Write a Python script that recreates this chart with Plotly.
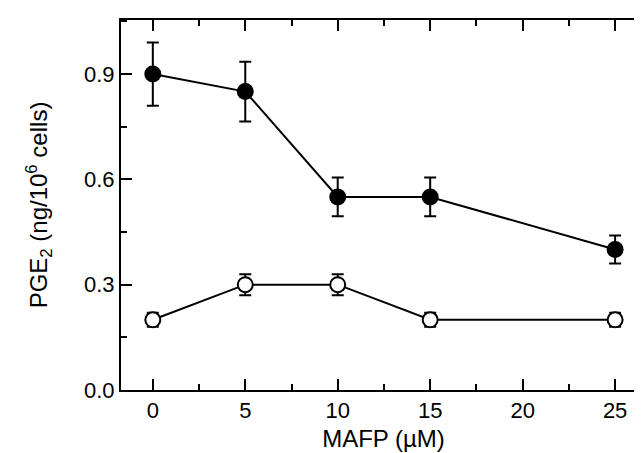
import plotly.graph_objects as go

mafp = [0, 5, 10, 15, 25]
pge2_filled = [0.90, 0.85, 0.55, 0.55, 0.40]
err_filled = [0.09, 0.085, 0.055, 0.055, 0.04]
pge2_open = [0.20, 0.30, 0.30, 0.20, 0.20]
err_open = [0.02, 0.03, 0.03, 0.02, 0.02]

x_ticks = [0, 5, 10, 15, 20, 25]
y_ticks = [0.0, 0.3, 0.6, 0.9]
y_tick_text = ["0.0", "0.3", "0.6", "0.9"]

fig = go.Figure()
fig.add_trace(go.Scatter(
    x=mafp, y=pge2_open, mode="lines+markers",
    line=dict(color="black", width=2),
    marker=dict(symbol="circle", size=15, color="white",
                line=dict(color="black", width=2)),
    error_y=dict(type="data", array=err_open, visible=True,
                 color="black", thickness=2, width=6),
    showlegend=False,
))
fig.add_trace(go.Scatter(
    x=mafp, y=pge2_filled, mode="lines+markers",
    line=dict(color="black", width=2),
    marker=dict(symbol="circle", size=17, color="black"),
    error_y=dict(type="data", array=err_filled, visible=True,
                 color="black", thickness=2, width=6),
    showlegend=False,
))

font_family = "Liberation Sans, Arial, sans-serif"
fig.update_layout(
    width=642, height=453,
    margin=dict(l=113, r=2, t=12, b=71),
    paper_bgcolor="white", plot_bgcolor="white",
    font=dict(family=font_family, size=22, color="black"),
    xaxis=dict(
        range=[-1.72, 26.67], tickvals=x_ticks,
        ticks="inside", ticklen=11, tickwidth=2, tickcolor="black",
        showline=True, linecolor="black", linewidth=2, mirror="ticks",
        showgrid=False, zeroline=False,
        minor=dict(dtick=2.5, tick0=0, ticks="inside", ticklen=6,
                   tickwidth=2, tickcolor="black", showgrid=False),
        title=dict(text="MAFP (µM)", font=dict(size=24), standoff=8),
        tickfont=dict(size=22),
    ),
    yaxis=dict(
        range=[0, 1.054], tickvals=y_ticks, ticktext=y_tick_text,
        ticks="inside", ticklen=11, tickwidth=2, tickcolor="black",
        showline=True, linecolor="black", linewidth=2, mirror="ticks",
        showgrid=False, zeroline=False,
        minor=dict(dtick=0.15, tick0=0, ticks="inside", ticklen=6,
                   tickwidth=2, tickcolor="black", showgrid=False),
        title=dict(text="PGE<sub>2</sub> (ng/10<sup>6</sup> cells)",
                   font=dict(size=24), standoff=30),
        tickfont=dict(size=22),
    ),
)

fig.write_html("out.html")
